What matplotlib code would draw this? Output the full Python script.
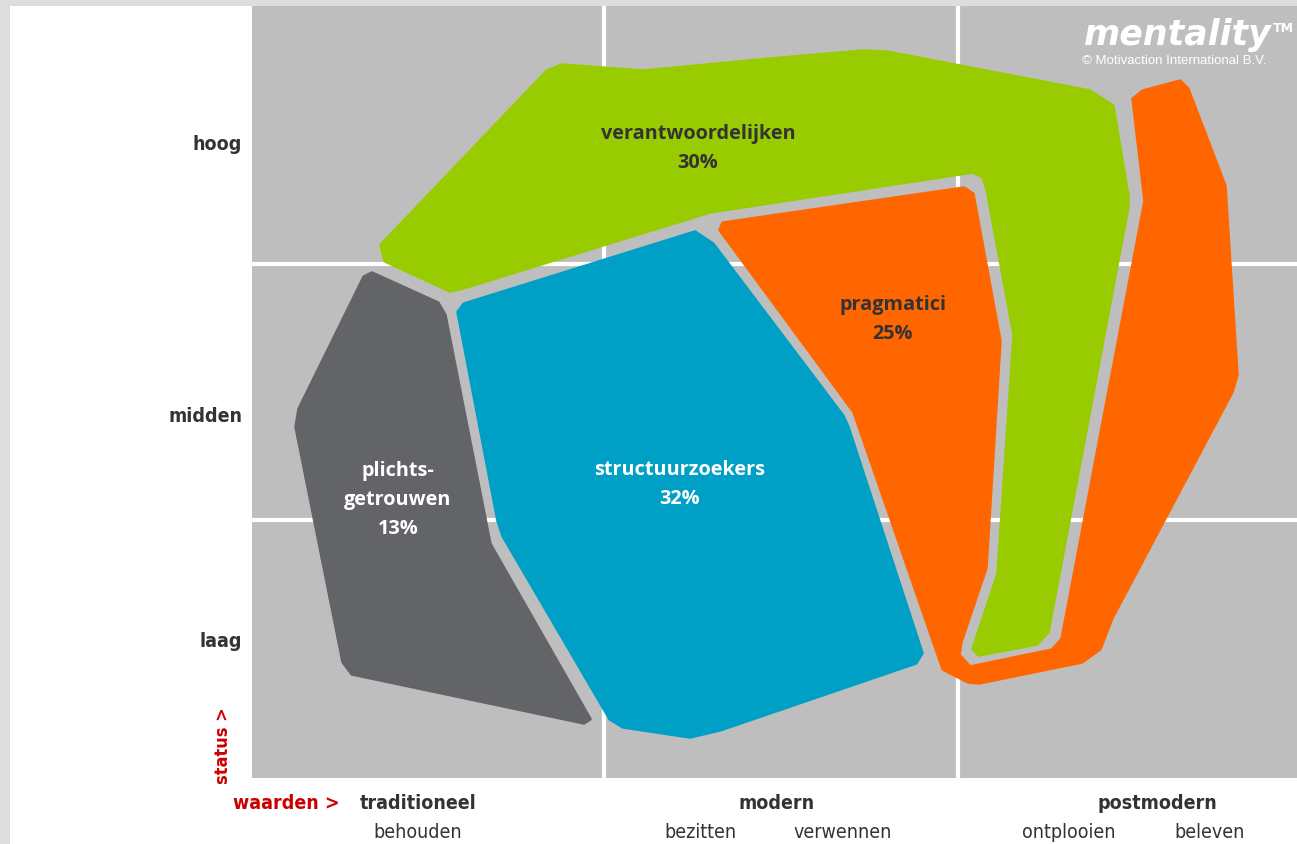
import matplotlib
matplotlib.use("Agg")
import matplotlib.pyplot as plt
from matplotlib.patches import Polygon, Rectangle

# segment shapes, in picture units (x right, y down)
plichtsgetrouwen = [(372, 274), (438, 304), (445, 316), (490, 545), (590, 720), (584, 724),
                    (352, 675), (343, 663), (296, 428), (299, 410), (364, 278)]
structuurzoekers = [(695, 233), (713, 245), (843, 417), (848, 428), (922, 654), (916, 664),
                    (720, 731), (690, 738), (623, 728), (610, 720), (503, 537), (498, 522),
                    (458, 313), (464, 305)]
verantwoordelijken = [(381, 246), (547, 72), (562, 66), (643, 72), (770, 60), (863, 52),
                      (887, 53), (1090, 92), (1113, 107), (1128, 197), (1128, 208),
                      (1048, 633), (1037, 645), (979, 656), (973, 650), (998, 575),
                      (1014, 336), (987, 190), (983, 178), (973, 173), (710, 213),
                      (460, 290), (450, 292), (385, 262)]
pragmatici = [(720, 231), (723, 224), (964, 189), (973, 195), (1000, 342), (986, 569),
              (961, 643), (959, 656), (970, 668), (1052, 651), (1062, 640), (1145, 202),
              (1133, 100), (1143, 92), (1180, 82), (1188, 90), (1225, 187), (1237, 376),
              (1232, 393), (1112, 619), (1100, 650), (1082, 663), (979, 684), (968, 683),
              (943, 670), (854, 413)]

segment_shapes = [verantwoordelijken, pragmatici, structuurzoekers, plichtsgetrouwen]
segment_colors = ["#99cc00", "#ff6600", "#00a0c6", "#636468"]
segment_labels = ["verantwoordelijken\n30%", "pragmatici\n25%", "structuurzoekers\n32%",
                  "plichts-\ngetrouwen\n13%"]
label_x = [698, 893, 680, 398]
label_y = [149, 320, 485, 500]
label_colors = ["#333333", "#333333", "white", "white"]

# axes
status_ticks = [142, 415, 640]
status_labels = ["hoog", "midden", "laag"]
grid_x = [604, 958]
grid_y = [265, 521]
waarden = ["traditioneel", "modern", "postmodern"]
waarden_x = [418, 777, 1157]
sub_waarden = ["behouden", "bezitten", "verwennen", "ontplooien", "beleven"]
sub_waarden_x = [418, 700, 843, 1069, 1210]

narrow = dict(family="DejaVu Sans", stretch="condensed")

fig = plt.figure(figsize=(12.97, 8.45), dpi=100)
fig.patch.set_facecolor("white")
# light grey frame strips
fig.patches.append(Rectangle((0, 1 - 7 / 845), 1, 7 / 845, transform=fig.transFigure,
                             facecolor="#dddddd", edgecolor="none", zorder=0))
fig.patches.append(Rectangle((0, 0), 10 / 1297, 1, transform=fig.transFigure,
                             facecolor="#dddddd", edgecolor="none", zorder=0))

ax = fig.add_axes([252 / 1297, 66 / 845, 1045 / 1297, 772 / 845])
ax.set_facecolor("#bebebe")
ax.set_xlim(252, 1297)
ax.set_ylim(779, 7)
for s in ax.spines.values():
    s.set_visible(False)

for gx in grid_x:
    ax.axvline(gx, color="white", lw=3, zorder=1)
for gy in grid_y:
    ax.axhline(gy, color="white", lw=3, zorder=1)

for pts, col in zip(segment_shapes, segment_colors):
    ax.add_patch(Polygon(pts, closed=True, facecolor=col, edgecolor=col, lw=2.5,
                         joinstyle="round", zorder=2))

for txt, x, y, c in zip(segment_labels, label_x, label_y, label_colors):
    ax.text(x, y, txt, ha="center", va="center", color=c, fontsize=14.3,
            fontweight="bold", family="Open Sans", linespacing=1.6, zorder=3)

ax.set_xticks([])
ax.set_yticks(status_ticks)
ax.set_yticklabels(status_labels, fontsize=14, fontweight="bold", color="#333333", **narrow)
ax.tick_params(axis="y", length=0, pad=7)

ax.text(223, 746, "status >", rotation=90, ha="center", va="center", color="#cc0000",
        fontsize=13, fontweight="bold", **narrow)
ax.text(340, 804, "waarden >", ha="right", va="center", color="#cc0000",
        fontsize=14, fontweight="bold", **narrow)
for w, x in zip(waarden, waarden_x):
    ax.text(x, 804, w, ha="center", va="center", color="#333333", fontsize=14,
            fontweight="bold", **narrow)
for w, x in zip(sub_waarden, sub_waarden_x):
    ax.text(x, 833, w, ha="center", va="center", color="#333333", fontsize=14, **narrow)

# logo
ax.text(1272, 35, "mentality", ha="right", va="center", color="white", fontsize=25,
        fontweight="bold", style="italic", zorder=3)
ax.text(1273, 28, "TM", ha="left", va="center", color="white", fontsize=9,
        fontweight="bold", zorder=3)
ax.text(1174, 61, "\u00a9 Motivaction International B.V.", ha="center", va="center",
        color="white", fontsize=9.5, family="Liberation Sans", zorder=3)

fig.savefig("out.png", dpi=100)
